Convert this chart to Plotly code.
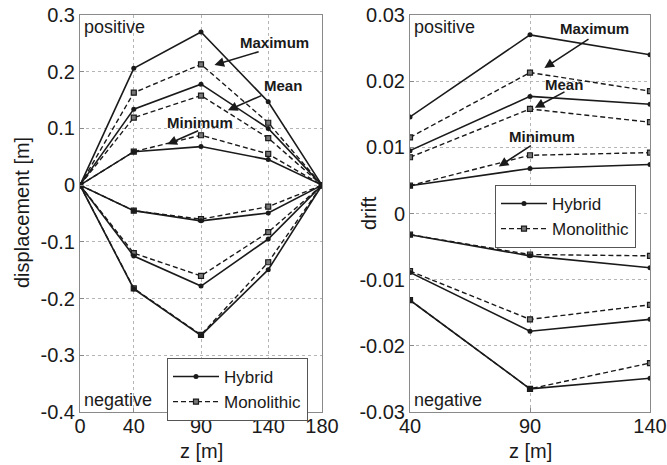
import plotly.graph_objects as go

# heights along the structure
z_disp = [0, 40, 90, 140, 180]
z_drift = [40, 90, 140]

# displacement [m], positive side
disp_hyb_max_pos = [0, 0.206, 0.270, 0.147, 0]
disp_mono_max_pos = [0, 0.163, 0.213, 0.110, 0]
disp_hyb_mean_pos = [0, 0.134, 0.178, 0.100, 0]
disp_mono_mean_pos = [0, 0.119, 0.158, 0.083, 0]
disp_hyb_min_pos = [0, 0.059, 0.068, 0.045, 0]
disp_mono_min_pos = [0, 0.059, 0.088, 0.055, 0]
# displacement [m], negative side
disp_hyb_min_neg = [0, -0.045, -0.063, -0.049, 0]
disp_mono_min_neg = [0, -0.045, -0.060, -0.038, 0]
disp_hyb_mean_neg = [0, -0.125, -0.178, -0.095, 0]
disp_mono_mean_neg = [0, -0.120, -0.160, -0.083, 0]
disp_hyb_max_neg = [0, -0.183, -0.265, -0.149, 0]
disp_mono_max_neg = [0, -0.182, -0.264, -0.136, 0]

# drift, positive side
drift_hyb_max_pos = [0.0146, 0.0270, 0.0240]
drift_mono_max_pos = [0.0115, 0.0213, 0.0185]
drift_hyb_mean_pos = [0.0095, 0.0177, 0.0165]
drift_mono_mean_pos = [0.0085, 0.0158, 0.0138]
drift_hyb_min_pos = [0.0042, 0.0068, 0.0074]
drift_mono_min_pos = [0.0042, 0.0088, 0.0092]
# drift, negative side
drift_hyb_min_neg = [-0.0032, -0.0064, -0.0082]
drift_mono_min_neg = [-0.0032, -0.0062, -0.0064]
drift_hyb_mean_neg = [-0.0089, -0.0178, -0.0160]
drift_mono_mean_neg = [-0.0087, -0.0160, -0.0138]
drift_hyb_max_neg = [-0.0131, -0.0265, -0.0249]
drift_mono_max_neg = [-0.0131, -0.0265, -0.0226]

FONT = "Liberation Sans, Arial, sans-serif"
INK = "#1a1a1a"
W, H = 667, 465


def fx(px):
    # pixel from the left -> paper x
    return px / W


def fy(py):
    # pixel from the top -> paper y
    return 1 - py / H


def hybrid(x, y, xa, ya, legend, show):
    return go.Scatter(
        x=x, y=y, xaxis=xa, yaxis=ya, mode="lines+markers",
        name="Hybrid", legend=legend, showlegend=show,
        line=dict(color=INK, width=1.6),
        marker=dict(symbol="circle", size=5, color=INK),
    )


def monolithic(x, y, xa, ya, legend, show):
    return go.Scatter(
        x=x, y=y, xaxis=xa, yaxis=ya, mode="lines+markers",
        name="Monolithic", legend=legend, showlegend=show,
        line=dict(color=INK, width=1.4, dash="5px,3px"),
        marker=dict(symbol="square", size=5, color="#777777",
                    line=dict(color=INK, width=1.2)),
    )


fig = go.Figure()

hyb_disp = [disp_hyb_max_pos, disp_hyb_mean_pos, disp_hyb_min_pos,
            disp_hyb_min_neg, disp_hyb_mean_neg, disp_hyb_max_neg]
mono_disp = [disp_mono_max_pos, disp_mono_mean_pos, disp_mono_min_pos,
             disp_mono_min_neg, disp_mono_mean_neg, disp_mono_max_neg]
for y in mono_disp:
    fig.add_trace(monolithic(z_disp, y, "x", "y", "legend", False))
for i, y in enumerate(hyb_disp):
    fig.add_trace(hybrid(z_disp, y, "x", "y", "legend", i == 0))
fig.add_trace(monolithic(z_disp, [None] * 5, "x", "y", "legend", True))

hyb_drift = [drift_hyb_max_pos, drift_hyb_mean_pos, drift_hyb_min_pos,
             drift_hyb_min_neg, drift_hyb_mean_neg, drift_hyb_max_neg]
mono_drift = [drift_mono_max_pos, drift_mono_mean_pos, drift_mono_min_pos,
              drift_mono_min_neg, drift_mono_mean_neg, drift_mono_max_neg]
for y in mono_drift:
    fig.add_trace(monolithic(z_drift, y, "x2", "y2", "legend2", False))
for i, y in enumerate(hyb_drift):
    fig.add_trace(hybrid(z_drift, y, "x2", "y2", "legend2", i == 0))
fig.add_trace(monolithic(z_drift, [None] * 3, "x2", "y2", "legend2", True))

axis_common = dict(
    automargin=False,
    showgrid=True, gridcolor="#b5b5b5", griddash="dot", gridwidth=1,
    showline=True, linecolor="#8a8a8a", linewidth=1, mirror=True,
    zeroline=False, ticks="inside", ticklen=4, tickcolor="#8a8a8a",
    tickfont=dict(family=FONT, size=20, color=INK),
)
legend_common = dict(
    xanchor="left", yanchor="top",
    bgcolor="white", bordercolor="#555555", borderwidth=1,
    font=dict(family=FONT, size=17, color=INK),
    itemwidth=46, tracegroupgap=0,
)

fig.update_layout(
    template="none",
    width=W, height=H,
    margin=dict(l=0, r=0, t=0, b=0),
    paper_bgcolor="white", plot_bgcolor="white",
    font=dict(family=FONT, color=INK),
    xaxis=dict(axis_common, domain=[fx(80), fx(322)], range=[0, 180],
               tickvals=[0, 40, 90, 140, 180], ticklabelstandoff=-4),
    yaxis=dict(axis_common, domain=[fy(412), fy(15)], range=[-0.4, 0.3],
               tickvals=[-0.4, -0.3, -0.2, -0.1, 0, 0.1, 0.2, 0.3],
               ticktext=["-0.4", "-0.3", "-0.2", "-0.1", "0", "0.1", "0.2", "0.3"]),
    xaxis2=dict(axis_common, domain=[fx(410), fx(650)], range=[40, 140],
                tickvals=[40, 90, 140], anchor="y2", ticklabelstandoff=-4),
    yaxis2=dict(axis_common, domain=[fy(412), fy(15)], range=[-0.03, 0.03],
                tickvals=[-0.03, -0.02, -0.01, 0, 0.01, 0.02, 0.03],
                ticktext=["-0.03", "-0.02", "-0.01", "0", "0.01", "0.02", "0.03"],
                anchor="x2"),
    legend=dict(legend_common, x=fx(167), y=fy(358)),
    legend2=dict(legend_common, x=fx(495), y=fy(185)),
)

# axis titles
title_font = dict(family=FONT, size=20, color=INK)
for text, x, y, angle in (("z [m]", fx(201), fy(451), 0),
                          ("z [m]", fx(530), fy(451), 0),
                          ("displacement [m]", fx(22), fy(213), -90),
                          ("drift", fx(369), fy(213), -90)):
    fig.add_annotation(x=x, y=y, xref="paper", yref="paper", text=text,
                       xanchor="center", yanchor="middle",
                       textangle=angle, showarrow=False, font=title_font)

label_font = dict(family=FONT, size=15, color=INK, weight="bold")
arrow_style = dict(showarrow=True, arrowhead=2, arrowsize=1.2, arrowwidth=1.6,
                   arrowcolor=INK, font=label_font)

# (text, text x, text y, tail x, tail y, head x, head y)
notes_disp = [
    ("Maximum", 145, 0.252, 134, 0.236, 100, 0.212),
    ("Mean", 151, 0.176, 136, 0.159, 110, 0.132),
    ("Minimum", 89, 0.111, 89, 0.097, 65, 0.072),
]
notes_drift = [
    ("Maximum", 117, 0.0279, 115, 0.0265, 96, 0.0220),
    ("Mean", 104, 0.0195, 105, 0.0185, 92, 0.0160),
    ("Minimum", 95, 0.0117, 91, 0.0104, 77, 0.0071),
]
for xr, yr, notes in (("x", "y", notes_disp), ("x2", "y2", notes_drift)):
    for text, tx, ty, ax, ay, hx, hy in notes:
        fig.add_annotation(x=tx, y=ty, xref=xr, yref=yr, text=text,
                           showarrow=False, font=label_font)
        fig.add_annotation(x=hx, y=hy, ax=ax, ay=ay, xref=xr, yref=yr,
                           axref=xr, ayref=yr, text="", **arrow_style)
    fig.add_annotation(x=0.01, y=1.0, xref=xr + " domain", yref=yr + " domain",
                       text="positive", showarrow=False, xanchor="left",
                       yanchor="top", font=dict(family=FONT, size=18, color=INK))
    fig.add_annotation(x=0.01, y=0.0, xref=xr + " domain", yref=yr + " domain",
                       text="negative", showarrow=False, xanchor="left",
                       yanchor="bottom", font=dict(family=FONT, size=18, color=INK))

# the page's default body margin would shift the whole figure by 8 px
fig.write_html("out.html", config={"displayModeBar": False},
               post_script="document.body.style.margin = '0';")
